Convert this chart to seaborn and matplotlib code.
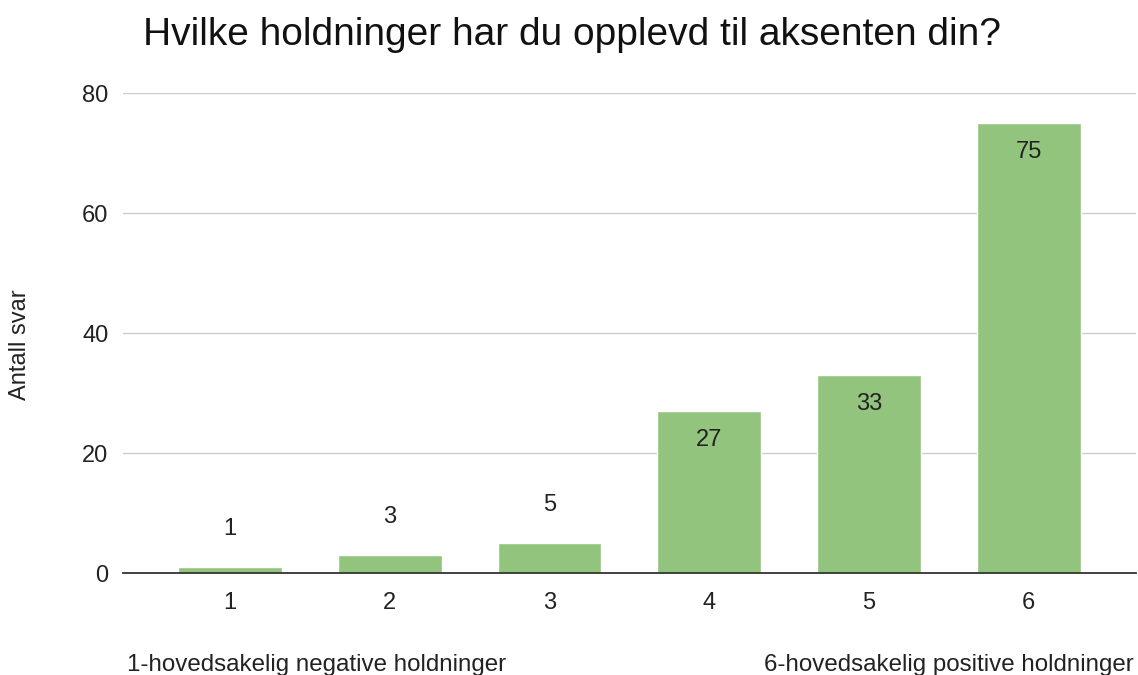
import matplotlib
matplotlib.use("Agg")
import matplotlib.pyplot as plt
import seaborn as sns
import pandas as pd

categories = ["1", "2", "3", "4", "5", "6"]
values = [1, 3, 5, 27, 33, 75]
yticks = [0, 20, 40, 60, 80]
title = "Hvilke holdninger har du opplevd til aksenten din?"
ylabel = "Antall svar"
left_note = "1-hovedsakelig negative holdninger"
right_note = "6-hovedsakelig positive holdninger"

sns.set_style("white")
plt.rcParams['font.family'] = ['Liberation Sans', 'DejaVu Sans']

df = pd.DataFrame({"cat": categories, "val": values})

fig = plt.figure(figsize=(11.38, 6.75), dpi=100)
ax = fig.add_axes([0.108, 0.151, 0.89, 0.711])

sns.barplot(data=df, x="cat", y="val", color="#93c47d", width=0.65,
            saturation=1, ax=ax, zorder=3)

ax.set_ylim(0, 80)
ax.set_xlim(-0.67, 5.67)
ax.set_yticks(yticks)
ax.yaxis.grid(True, color="#cccccc", linewidth=1, zorder=0)
ax.xaxis.grid(False)
for s in ["top", "right", "left"]:
    ax.spines[s].set_visible(False)
ax.spines["bottom"].set_color("#333333")
ax.spines["bottom"].set_linewidth(1.3)
ax.spines["bottom"].set_zorder(4)
ax.tick_params(axis="both", length=0, labelsize=17, colors="#222222")
ax.tick_params(axis="x", pad=13.5)
ax.tick_params(axis="y", pad=10.5)
ax.set_xlabel("")
ax.set_ylabel("")
fig.text(0.0176, 0.489, ylabel, fontsize=17, color="#222222", rotation=90,
         ha="center", va="center")

# data labels
px_per_unit = 480 / 80.0
for i, v in enumerate(values):
    if v * px_per_unit > 60:
        ax.annotate(str(v), (i, v), xytext=(0, -29), textcoords="offset pixels",
                    ha="center", va="center", fontsize=17, color="#222222", zorder=5)
    else:
        ax.annotate(str(v), (i, v), xytext=(0, 38), textcoords="offset pixels",
                    ha="center", va="center", fontsize=17, color="#222222", zorder=5)

fig.text(0.126, 1 - 45 / 675, title, fontsize=28, color="#111111", ha="left", va="baseline")
fig.text(0.112, 0.015, left_note, fontsize=17.4, color="#222222", ha="left", va="center")
fig.text(0.996, 0.015, right_note, fontsize=17.4, color="#222222", ha="right", va="center")

fig.savefig("out.png", dpi=100)
